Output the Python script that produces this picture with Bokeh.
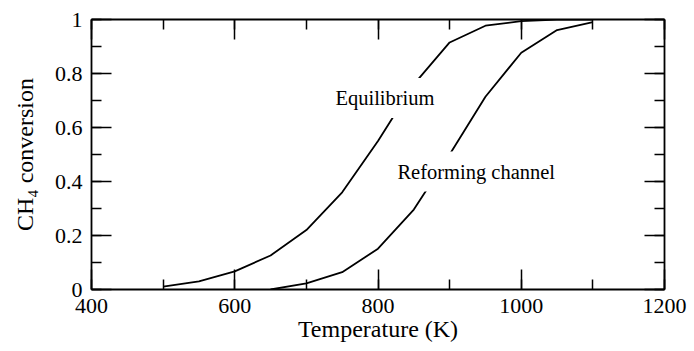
from bokeh.plotting import figure
from bokeh.models import LinearAxis, Label, SingleIntervalTicker, CustomJSTickFormatter, Range1d
from bokeh.embed import file_html
from bokeh.resources import INLINE

temp_eq = [500, 550, 600, 650, 700, 750, 800, 850, 900, 950, 1000, 1050, 1100]
conv_eq = [0.011, 0.03, 0.067, 0.126, 0.22, 0.36, 0.55, 0.76, 0.915, 0.977, 0.994, 1.0, 1.0]

temp_ref = [650, 700, 750, 800, 850, 900, 950, 1000, 1050, 1100]
conv_ref = [0.0, 0.023, 0.064, 0.151, 0.296, 0.50, 0.714, 0.877, 0.961, 0.99]

x_ticks_major = 200
y_ticks_major = 0.2

FONT = "Liberation Serif"

p = figure(frame_width=573, frame_height=270, output_backend="svg", toolbar_location=None,
           x_range=Range1d(400, 1200), y_range=Range1d(0, 1),
           min_border_left=91, min_border_right=30, min_border_top=19, min_border_bottom=10,
           x_axis_label="Temperature (K)", y_axis_label="CH\u2084 conversion")
p.grid.visible = False
p.outline_line_color = None
p.background_fill_color = "white"

bottom = p.below[0]
left = p.left[0]

p.line(temp_eq, conv_eq, line_color="black", line_width=1.8)
p.line(temp_ref, conv_ref, line_color="black", line_width=1.8)

bottom.ticker = SingleIntervalTicker(interval=x_ticks_major, num_minor_ticks=2)
left.ticker = SingleIntervalTicker(interval=y_ticks_major, num_minor_ticks=2)
left.formatter = CustomJSTickFormatter(code="return tick.toFixed(1).replace(/\\.0$/, '');")

blank = CustomJSTickFormatter(code="return '';")
top = LinearAxis(ticker=SingleIntervalTicker(interval=x_ticks_major, num_minor_ticks=2),
                 formatter=blank, major_label_standoff=0)
right = LinearAxis(ticker=SingleIntervalTicker(interval=y_ticks_major, num_minor_ticks=2),
                   formatter=blank, major_label_standoff=0)
p.add_layout(top, "above")
p.add_layout(right, "right")

for ax in [bottom, left, top, right]:
    ax.axis_line_color = "black"
    ax.axis_line_width = 1.8
    ax.major_tick_line_color = "black"
    ax.minor_tick_line_color = "black"
    ax.major_tick_line_width = 1.5
    ax.minor_tick_line_width = 1.5
    ax.major_tick_in = 20
    ax.major_tick_out = 0
    ax.minor_tick_in = 10
    ax.minor_tick_out = 0
    ax.major_label_text_font = FONT
    ax.major_label_text_color = "black"
    ax.major_label_text_font_size = "22px"
    ax.axis_label_text_font = FONT
    ax.axis_label_text_font_style = "normal"
    ax.axis_label_text_color = "black"
    ax.axis_label_text_font_size = "24px"

bottom.major_label_standoff = 9
left.major_label_standoff = 9
bottom.axis_label_standoff = 0
left.axis_label_standoff = 14

lab1 = Label(x=728, y=0.709, text="Equilibrium", text_font=FONT, text_font_size="20.5px",
             text_baseline="alphabetic", text_align="left", text_color="black",
             background_fill_color="white", padding=9)
lab2 = Label(x=814.5, y=0.437, text="Reforming channel", text_font=FONT, text_font_size="20.5px",
             text_baseline="alphabetic", text_align="left", text_color="black",
             background_fill_color="white", padding=9)
p.add_layout(lab1)
p.add_layout(lab2)

open("out.html", "w").write(file_html(p, INLINE))
